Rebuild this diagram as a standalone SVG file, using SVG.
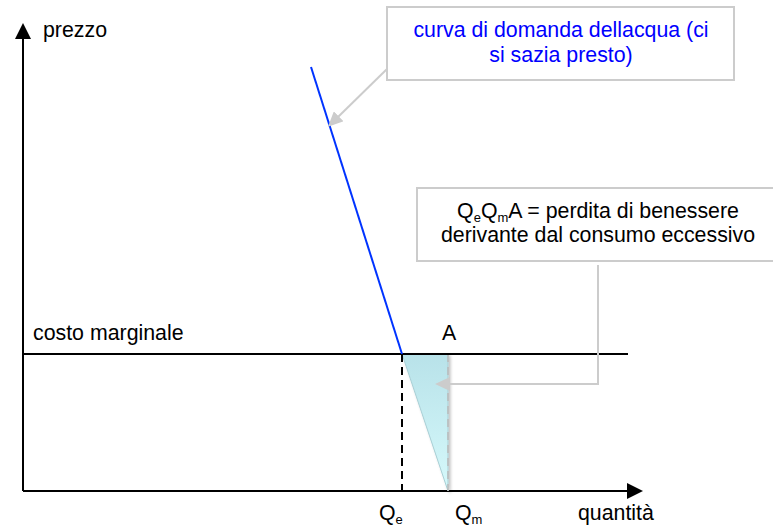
<svg xmlns="http://www.w3.org/2000/svg" width="773" height="528" viewBox="0 0 773 528">
<style>
text { font-family: "Liberation Sans", Arial, sans-serif; font-size: 21.33px; fill: #000; }
.blue { fill: #0000ff; }
.axis { stroke: #000; stroke-width: 2; fill: none; }
.callout { fill: #fff; stroke: #cccccc; stroke-width: 2; }
.conn { stroke: #cccccc; stroke-width: 2; fill: none; }
.sub { font-size: 13px; }
</style>
<defs>
<marker id="blackArrow" markerUnits="userSpaceOnUse" markerWidth="16" markerHeight="16" refX="3" refY="8" orient="auto">
<path d="M0,0 L16,8 L0,16 z" fill="#000"/>
</marker>
<marker id="grayArrow" markerUnits="userSpaceOnUse" markerWidth="16" markerHeight="14" refX="1" refY="7" orient="auto">
<path d="M0,0 L15,7 L0,14 z" fill="#cccccc"/>
</marker>
<linearGradient id="triFill" x1="0" y1="0" x2="0" y2="1">
<stop offset="0" stop-color="#b8e2e9"/>
<stop offset="1" stop-color="#d6f9fb"/>
</linearGradient>
<filter id="shadow" x="-30%" y="-10%" width="160%" height="130%">
<feDropShadow dx="2" dy="2" stdDeviation="1.5" flood-color="#000" flood-opacity="0.25"/>
</filter>
</defs>

<g id="axes">
<line class="axis" x1="23" y1="491" x2="23" y2="36" marker-end="url(#blackArrow)"/>
<line class="axis" x1="23" y1="491" x2="630" y2="491" marker-end="url(#blackArrow)"/>
<text x="43" y="37">prezzo</text>
<text x="578" y="520">quantità</text>
</g>

<g id="welfare-loss">
<polygon points="402,354 448,354 448,491" fill="url(#triFill)" stroke="#a9cfd5" stroke-width="1" filter="url(#shadow)"/>
<line x1="448" y1="354" x2="448" y2="491" stroke="#bbbbbb" stroke-width="1.5" stroke-dasharray="8,5"/>
</g>

<g id="marginal-cost">
<line class="axis" x1="23" y1="354" x2="628" y2="354"/>
<text x="33" y="340">costo marginale</text>
<text x="442" y="340">A</text>
</g>

<g id="demand-curve">
<line x1="311" y1="67" x2="402" y2="354" stroke="#0033ff" stroke-width="2"/>
</g>

<g id="qe">
<line x1="402" y1="354" x2="402" y2="491" stroke="#000" stroke-width="2" stroke-dasharray="8,5"/>
<text x="379" y="520">Q<tspan class="sub" dy="4">e</tspan></text>
</g>

<g id="qm">
<text x="455" y="520">Q<tspan class="sub" dy="4">m</tspan></text>
</g>

<g id="connectors">
<line class="conn" x1="387" y1="69" x2="338" y2="117" marker-end="url(#grayArrow)"/>
<polyline class="conn" points="598,265 598,384 449,384" marker-end="url(#grayArrow)"/>
</g>

<g id="callout-demand">
<rect class="callout" x="387" y="7" width="347" height="73"/>
<text class="blue" x="561" y="37" text-anchor="middle">curva di domanda dellacqua (ci</text>
<text class="blue" x="561" y="62" text-anchor="middle">si sazia presto)</text>
</g>

<g id="callout-loss">
<rect class="callout" x="417" y="188" width="362" height="73"/>
<text x="598" y="218" text-anchor="middle">Q<tspan class="sub" dy="4">e</tspan><tspan dy="-4">Q</tspan><tspan class="sub" dy="4">m</tspan><tspan dy="-4">A = perdita di benessere</tspan></text>
<text x="598" y="242" text-anchor="middle">derivante dal consumo eccessivo</text>
</g>
</svg>
